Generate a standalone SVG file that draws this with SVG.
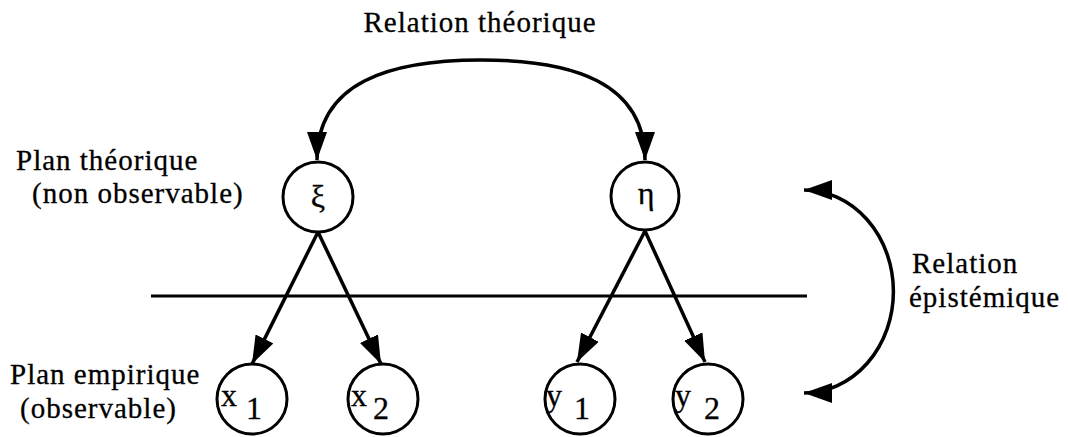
<svg xmlns="http://www.w3.org/2000/svg" width="1068" height="437" viewBox="0 0 1068 437">
  <defs>
    <marker id="arrow" viewBox="0 0 28 20" refX="28" refY="10" markerWidth="28" markerHeight="20" markerUnits="userSpaceOnUse" orient="auto-start-reverse">
      <path d="M0,0 L28,10 L0,20 Z" fill="#000"/>
    </marker>
    <style>
      .lbl { font-family: "Liberation Serif", "Times New Roman", serif; font-size: 29px; letter-spacing: 1px; fill: #000; stroke: #000; stroke-width: 0.3; }
      .sym { font-family: "Liberation Serif", "Times New Roman", serif; font-size: 32px; fill: #000; stroke: #000; stroke-width: 0.3; }
      .node { fill: #fff; stroke: #000; stroke-width: 3; }
      .edge { fill: none; stroke: #000; stroke-width: 3.5; }
    </style>
  </defs>
  <rect width="1068" height="437" fill="#fff"/>

  <!-- separation between theoretical and empirical planes -->
  <line x1="151" y1="296" x2="807" y2="296" stroke="#000" stroke-width="3"/>

  <!-- labels -->
  <text class="lbl" x="480" y="32" text-anchor="middle">Relation théorique</text>
  <text class="lbl" x="16" y="170">Plan théorique</text>
  <text class="lbl" x="32" y="203">(non observable)</text>
  <text class="lbl" x="10" y="384">Plan empirique</text>
  <text class="lbl" x="20" y="418">(observable)</text>
  <text class="lbl" x="912" y="273">Relation</text>
  <text class="lbl" x="909" y="307">épistémique</text>

  <!-- connectors -->
  <g id="connectors">
    <path class="edge" d="M317,160 C317,82 390,60 481,60 C572,60 645,82 645,160" marker-start="url(#arrow)" marker-end="url(#arrow)"/>
    <line class="edge" x1="318" y1="232" x2="252" y2="364" marker-end="url(#arrow)"/>
    <line class="edge" x1="318" y1="232" x2="381" y2="364" marker-end="url(#arrow)"/>
    <line class="edge" x1="645" y1="231" x2="577" y2="362" marker-end="url(#arrow)"/>
    <line class="edge" x1="645" y1="231" x2="705" y2="362" marker-end="url(#arrow)"/>
    <path class="edge" d="M804,190 A 89,101 0 0 1 804,393" marker-start="url(#arrow)" marker-end="url(#arrow)"/>
  </g>

  <!-- latent variables -->
  <g id="xi">
    <circle class="node" cx="318" cy="197" r="35"/>
    <text class="sym" x="318" y="207" text-anchor="middle">ξ</text>
  </g>
  <g id="eta">
    <circle class="node" cx="645" cy="196" r="34"/>
    <text class="sym" x="646" y="204" text-anchor="middle">η</text>
  </g>

  <!-- observed indicators -->
  <g id="x1">
    <circle class="node" cx="252" cy="399" r="35"/>
    <text class="sym" x="221" y="406">x</text>
    <text class="sym" x="246" y="419">1</text>
  </g>
  <g id="x2">
    <circle class="node" cx="383" cy="399" r="35"/>
    <text class="sym" x="351" y="406">x</text>
    <text class="sym" x="373" y="419">2</text>
  </g>
  <g id="y1">
    <circle class="node" cx="580" cy="399" r="35"/>
    <text class="sym" x="546" y="406">y</text>
    <text class="sym" x="574" y="419">1</text>
  </g>
  <g id="y2">
    <circle class="node" cx="708" cy="399" r="35"/>
    <text class="sym" x="675" y="406">y</text>
    <text class="sym" x="704" y="419">2</text>
  </g>
</svg>
